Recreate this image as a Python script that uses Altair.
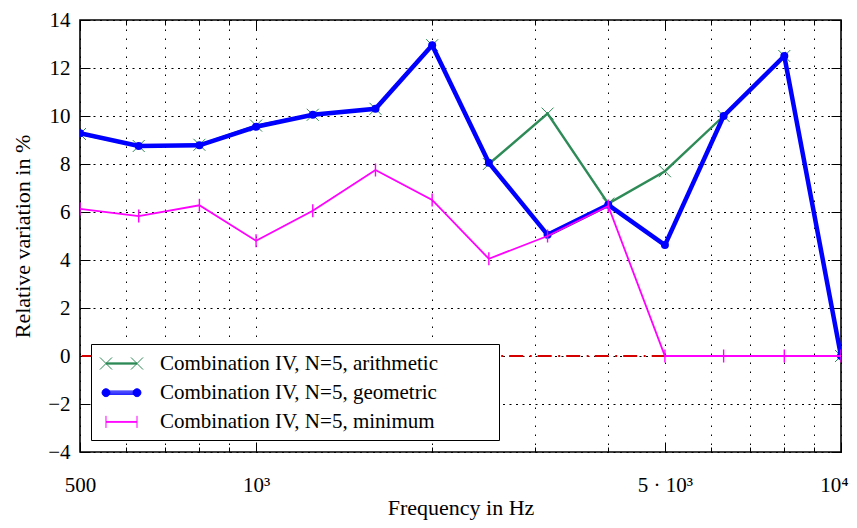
import math
import altair as alt
import pandas as pd

# ---------------- data ----------------
freqs = [500, 630, 800, 1000, 1250, 1600, 2000, 2500, 3150, 4000, 5000, 6300, 8000, 10000]
arithmetic = [9.25, 8.75, 8.8, 9.6, 10.05, 10.3, 12.95, 8.0, 10.1, 6.35, 7.7, 10.0, 12.5, 0.0]
geometric = [9.28, 8.75, 8.78, 9.55, 10.05, 10.3, 12.95, 8.05, 5.05, 6.3, 4.62, 10.0, 12.5, 0.0]
minimum = [6.13, 5.83, 6.28, 4.8, 6.05, 7.75, 6.5, 4.05, 5.0, 6.25, 0.0, 0.0, 0.0, 0.0]
series_names = ["arithmetic", "geometric", "minimum"]
series_colors = ["#2e8b57", "#0000ff", "#ff00ff"]
reference_level = [0]

x_ticks = [500, 600, 700, 800, 900, 1000, 2000, 3000, 4000, 5000, 6000, 7000, 8000, 9000, 10000]
x_major = [500, 1000, 5000, 10000]
x_major_labels = ["500", "10³", "5 · 10³", "10⁴"]
y_ticks = [-4, -2, 0, 2, 4, 6, 8, 10, 12, 14]

FONT = "Liberation Serif"

# ---------------- tables ----------------
rows = []
for name, vals in zip(series_names, [arithmetic, geometric, minimum]):
    for f, v in zip(freqs, vals):
        rows.append({"freq": f, "value": v, "series": name})
df = pd.DataFrame(rows)
df_a = df[df.series == "arithmetic"]
df_g = df[df.series == "geometric"]
df_m = df[df.series == "minimum"]
ref_df = pd.DataFrame({"level": reference_level})

# ---------------- scales / axes ----------------
xscale = alt.Scale(type="log", domain=[500, 10000], nice=False)
yscale = alt.Scale(domain=[-4, 14], nice=False)
cscale = alt.Scale(domain=series_names, range=series_colors)

label_expr = " : ".join(
    f"datum.value == {v} ? '{t}'" for v, t in zip(x_major, x_major_labels)
) + " : ''"
major_test = " || ".join(f"datum.value == {v}" for v in x_major)
tick_dash = {"condition": {"test": major_test, "value": [10, 0]}, "value": [0, 5, 5, 0]}

x_axis_main = alt.Axis(
    values=x_ticks, labelExpr=label_expr, labelOverlap=False, labelFlush=False,
    labelFont=FONT, labelFontSize=21, labelColor="black", labelPadding=22,
    labelOffset={"condition": {"test": f"datum.value == {x_major[-1]}", "value": -7}, "value": 0},
    offset=-10, tickSize=10, tickColor="black", tickWidth=1, tickDash=tick_dash,
    domain=False, grid=True, gridColor="black", gridOpacity=1, gridWidth=1,
    gridDash=[1.5, 7.5],
    title="Frequency in Hz", titleFont=FONT, titleFontSize=22,
    titleFontWeight="normal", titleColor="black", titlePadding=2,
)
x_axis_top = alt.Axis(
    orient="top", values=x_ticks, labels=False, grid=False, domain=False,
    offset=-10, tickSize=10, tickColor="black", tickWidth=1, tickDash=tick_dash,
    title=None,
)
y_axis_main = alt.Axis(
    values=y_ticks, labelFont=FONT, labelFontSize=21, labelColor="black",
    labelPadding=10, offset=-10, tickSize=10, tickColor="black", tickWidth=1,
    domain=False, grid=True, gridColor="black", gridOpacity=1, gridWidth=1,
    gridDash=[2, 4.5],
    title="Relative variation in %", titleFont=FONT, titleFontSize=22,
    titleFontWeight="normal", titleColor="black", titlePadding=13,
)
y_axis_right = alt.Axis(
    orient="right", values=y_ticks, labels=False, grid=False, domain=False,
    offset=-10, tickSize=10, tickColor="black", tickWidth=1, title=None,
)

# ---------------- legend symbols (stroke-only paths, symbol units) ----------------
UA, UB = -0.41, 2.41


def hlines(offsets):
    return "".join(f"M{UA},{o}L{UB},{o}" for o in offsets)


def poly_circle(cx, r, n=14):
    pts = [(cx + r * math.cos(2 * math.pi * k / n), r * math.sin(2 * math.pi * k / n)) for k in range(n)]
    return "M" + "L".join(f"{x:.3f},{y:.3f}" for x, y in pts) + "Z"


def dot(cx):
    return "".join(poly_circle(cx, r) for r in (0.36, 0.27, 0.18, 0.09)) + f"M{cx - 0.05},0L{cx + 0.05},0"


def xmark(cx, a):
    return f"M{cx - a},{-a}L{cx + a},{a}M{cx - a},{a}L{cx + a},{-a}"


PATH_A = hlines([-0.06, 0, 0.06]) + xmark(UA, 0.55) + xmark(UB, 0.55)
PATH_G = hlines([-0.15, -0.05, 0.05, 0.15]) + dot(UA) + dot(UB)
PATH_M = hlines([-0.04, 0.04]) + f"M{UA},-0.55L{UA},0.55M{UB},-0.55L{UB},0.55"

symbol_expr = (
    f"datum.value === '{series_names[0]}' ? '{PATH_A}' : "
    f"datum.value === '{series_names[1]}' ? '{PATH_G}' : '{PATH_M}'"
)

# trailing blank room in the legend box (non-breaking spaces kept by a zero-width char)
TAIL = "\u00a0" * 10 + "\u200b"
legend = alt.Legend(
    title=None, orient="none", legendX=11, legendY=324, direction="vertical",
    fillColor="white", strokeColor="black", padding=8,
    labelFont=FONT, labelFontSize=21, labelColor="black", labelLimit=1000,
    labelExpr=f"'Combination IV, N=5, ' + datum.label + '{TAIL}'",
    symbolType=alt.ExprRef(expr=symbol_expr),
    symbolSize=484, symbolStrokeWidth=1, symbolOffset=0, labelOffset=38,
    symbolFillColor="transparent", symbolOpacity=1,
    rowPadding=7.2,
)


def color_enc():
    return alt.Color("series:N", scale=cscale, legend=legend)


# ---------------- layers ----------------
rule = alt.Chart(ref_df).mark_rule(
    color="#d40000", strokeWidth=2, strokeDash=[14, 6, 2, 6.5], strokeDashOffset=24.2
).encode(y=alt.Y("level:Q", scale=yscale, axis=y_axis_main))

X_PATH = "M-1,-1L1,1M-1,1L1,-1"
TICK_PATH = "M0,-1L0,1"

line_a = alt.Chart(df_a).mark_line(strokeWidth=2.4, clip=True).encode(
    x=alt.X("freq:Q", scale=xscale, axis=x_axis_main),
    y=alt.Y("value:Q", scale=yscale, axis=None),
    color=color_enc(),
)
pts_a = alt.Chart(df_a).mark_point(
    shape=X_PATH, size=144, filled=False, strokeWidth=1, opacity=1, clip=True
).encode(
    x=alt.X("freq:Q", scale=xscale, axis=x_axis_top),
    y=alt.Y("value:Q", scale=yscale, axis=y_axis_right),
    color=color_enc(),
)
line_g = alt.Chart(df_g).mark_line(strokeWidth=4.5, clip=True).encode(
    x=alt.X("freq:Q", scale=xscale, axis=None),
    y=alt.Y("value:Q", scale=yscale, axis=None),
    color=color_enc(),
)
pts_g = alt.Chart(df_g).mark_point(
    shape="circle", size=64, filled=True, opacity=1, clip=True
).encode(
    x=alt.X("freq:Q", scale=xscale, axis=None),
    y=alt.Y("value:Q", scale=yscale, axis=None),
    color=color_enc(),
)
line_m = alt.Chart(df_m).mark_line(strokeWidth=1.8, clip=True).encode(
    x=alt.X("freq:Q", scale=xscale, axis=None),
    y=alt.Y("value:Q", scale=yscale, axis=None),
    color=color_enc(),
)
pts_m = alt.Chart(df_m).mark_point(
    shape=TICK_PATH, size=169, filled=False, strokeWidth=1.4, opacity=1, clip=True
).encode(
    x=alt.X("freq:Q", scale=xscale, axis=None),
    y=alt.Y("value:Q", scale=yscale, axis=None),
    color=color_enc(),
)

chart = (
    alt.layer(rule, line_a, pts_a, line_g, pts_g, line_m, pts_m)
    .resolve_axis(x="independent", y="independent")
    .properties(
        width=761, height=432,
        autosize=alt.AutoSizeParams(type="none"),
        padding={"left": 72, "top": 12, "right": 8, "bottom": 68},
        background="white",
    )
    .configure(font=FONT)
    .configure_view(stroke="black", strokeWidth=1.6)
)

chart.save("out.html", embed_options={"renderer": "svg", "actions": False})
